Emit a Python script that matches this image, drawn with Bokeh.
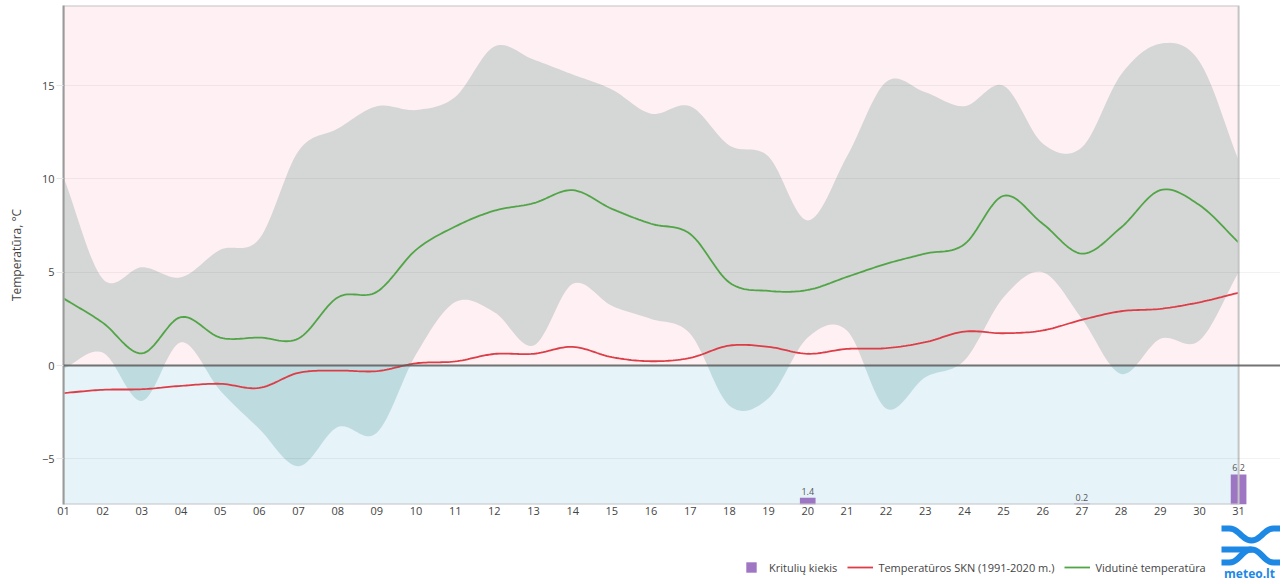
import numpy as np
from bokeh.plotting import figure
from bokeh.layouts import column
from bokeh.models import (Range1d, FixedTicker, Span, Legend, LegendItem)
from bokeh.embed import file_html
from bokeh.resources import INLINE
from bokeh.core.properties import value

# ---------------- data ----------------
days = list(range(1, 32))
day_labels = [f"{d:02d}" for d in days]

t_mean = [3.6, 2.3, 0.65, 2.6, 1.5, 1.5, 1.45, 3.65, 3.95, 6.2, 7.45, 8.3, 8.7, 9.4, 8.4, 7.6,
          7.05, 4.45, 4.0, 4.05, 4.75, 5.45, 6.0, 6.5, 9.1, 7.6, 6.0, 7.4, 9.4, 8.6, 6.6]
t_norm = [-1.48, -1.3, -1.27, -1.09, -0.98, -1.2, -0.39, -0.27, -0.3, 0.12, 0.22, 0.62, 0.63,
          1.0, 0.45, 0.23, 0.41, 1.07, 1.0, 0.63, 0.89, 0.93, 1.25, 1.82, 1.73, 1.88, 2.45,
          2.91, 3.04, 3.39, 3.9]
t_max = [10.1, 4.65, 5.27, 4.73, 6.2, 6.8, 11.5, 12.7, 13.9, 13.7, 14.4, 17.1, 16.4, 15.6, 14.8,
         13.5, 13.9, 11.8, 11.2, 7.78, 11.2, 15.2, 14.65, 13.9, 15.0, 11.9, 11.7, 15.6, 17.25,
         16.3, 11.0]
t_min = [-0.17, 0.7, -1.9, 1.25, -1.34, -3.4, -5.4, -3.3, -3.6, 0.6, 3.4, 2.86, 1.07, 4.38, 3.2,
         2.5, 1.7, -2.15, -1.75, 1.5, 1.88, -2.3, -0.63, 0.27, 3.66, 5.0, 2.5, -0.45, 1.43, 1.34,
         5.0]

precip_days = [20, 27, 31]
precip = [1.4, 0.2, 6.2]
precip_labels = [f"{v:.1f}" for v in precip]

y_ticks = [-5, 0, 5, 10, 15]
y_tick_labels = ["−5", "0", "5", "10", "15"]

series_names = ["Kritulių kiekis", "Temperatūros SKN (1991-2020 m.)", "Vidutinė temperatūra"]
y_title = "Temperatūra, °C"
logo_text = "meteo.lt"

# ---------------- helpers ----------------
def spline(xv, yv, n=16):
    """Catmull-Rom style smooth rendering of the daily points."""
    xv = np.asarray(xv, float)
    yv = np.asarray(yv, float)
    m = np.zeros_like(yv)
    m[1:-1] = (yv[2:] - yv[:-2]) / 2.0
    m[0] = yv[1] - yv[0]
    m[-1] = yv[-1] - yv[-2]
    xs, ys = [], []
    for i in range(len(xv) - 1):
        t = np.linspace(0, 1, n, endpoint=False)
        h00 = 2 * t**3 - 3 * t**2 + 1
        h10 = t**3 - 2 * t**2 + t
        h01 = -2 * t**3 + 3 * t**2
        h11 = t**3 - t**2
        ys.append(h00 * yv[i] + h10 * m[i] + h01 * yv[i + 1] + h11 * m[i + 1])
        xs.append(xv[i] + t * (xv[i + 1] - xv[i]))
    xs.append([xv[-1]])
    ys.append([yv[-1]])
    return np.concatenate(xs), np.concatenate(ys)


FONT = "Open Sans"
TXT = "#444444"
RED = "#dc3d46"
GREEN = "#52a547"
PURPLE = "#9467bd"
BLUE = "#1e88e5"

y0, y1 = -7.45, 19.3
x0, x1 = 1, 32.07

W = 1280
H_MAIN = 524
H_FOOT = 58
LEFT = 63

p_main = figure(width=W, height=H_MAIN, x_range=Range1d(x0, x1), y_range=Range1d(y0, y1),
                output_backend="svg", toolbar_location=None,
                min_border_left=LEFT, min_border_right=0, min_border_top=5, min_border_bottom=20)
p_main.outline_line_color = None
p_main.extra_y_ranges = {"precip": Range1d(0, 102.8)}

# backgrounds (warm above zero, cold below)
p_main.quad(left=[days[0]], right=[days[-1]], bottom=[0], top=[y1],
            fill_color="#fff0f3", line_color=None)
p_main.quad(left=[days[0]], right=[days[-1]], bottom=[y0], top=[0],
            fill_color="#e6f3f9", line_color=None)

# min / max band
xs, lo = spline(days, t_min)
_, hi = spline(days, t_max)
p_main.varea(x=xs, y1=np.maximum(lo, 0), y2=np.maximum(hi, 0), fill_color="#d5d6d6")
p_main.varea(x=xs, y1=np.minimum(lo, 0), y2=np.minimum(hi, 0), fill_color="#bedbdf")

# zero line
p_main.add_layout(Span(location=0, dimension="width", line_color="#5a5a5a",
                       line_width=2, line_alpha=0.85))

# lines
xn, yn = spline(days, t_norm)
p_main.line(xn, yn, line_color=RED, line_width=1.8)
xm, ym = spline(days, t_mean)
p_main.line(xm, ym, line_color=GREEN, line_width=1.8)

# precipitation bars
p_main.vbar(x=precip_days, top=precip, width=0.4, y_range_name="precip",
            fill_color=PURPLE, fill_alpha=0.9, line_color=None)
p_main.text(x=precip_days, y=precip, text=precip_labels, y_range_name="precip",
            y_offset=-3, text_align="center", text_baseline="bottom",
            text_font=value(FONT), text_font_size="9px", text_color="#555555")

# frame border around the month
p_main.quad(left=[days[0]], right=[days[-1]], bottom=[y0], top=[y1],
            fill_color=None, line_color="#c4c4c4", line_width=2)

# axes
p_main.xaxis.ticker = FixedTicker(ticks=days)
p_main.xaxis.major_label_overrides = {d: l for d, l in zip(days, day_labels)}
p_main.xaxis.axis_line_color = None
p_main.xaxis.major_tick_line_color = None
p_main.xaxis.major_tick_in = 0
p_main.xaxis.major_tick_out = 0
p_main.xaxis.minor_tick_line_color = None
p_main.xaxis.minor_tick_out = 0
p_main.xaxis.major_label_standoff = 2
p_main.xaxis.major_label_text_font = FONT
p_main.xaxis.major_label_text_font_size = "11px"
p_main.xaxis.major_label_text_color = TXT

p_main.yaxis.ticker = FixedTicker(ticks=y_ticks)
p_main.yaxis.major_label_overrides = {t: l for t, l in zip(y_ticks, y_tick_labels)}
p_main.yaxis.axis_line_color = "#9a9a9a"
p_main.yaxis.axis_line_width = 2
p_main.yaxis.major_tick_in = 0
p_main.yaxis.major_tick_out = 7
p_main.yaxis.major_tick_line_color = "#e6e6e6"
p_main.yaxis.minor_tick_line_color = None
p_main.yaxis.major_label_standoff = 2
p_main.yaxis.major_label_text_font = FONT
p_main.yaxis.major_label_text_font_size = "11px"
p_main.yaxis.major_label_text_color = TXT
p_main.yaxis.axis_label = y_title
p_main.yaxis.axis_label_text_font = FONT
p_main.yaxis.axis_label_text_font_style = "normal"
p_main.yaxis.axis_label_text_font_size = "12px"
p_main.yaxis.axis_label_text_color = TXT
p_main.yaxis.axis_label_standoff = 14

p_main.xgrid.visible = False
p_main.ygrid.ticker = FixedTicker(ticks=[t for t in y_ticks if t != 0])
p_main.ygrid.grid_line_color = "#000000"
p_main.ygrid.grid_line_alpha = 0.05
p_main.ygrid.level = "overlay"

# ---------------- footer: legend + logo (page-pixel coordinates) ----------------
top_px = H_MAIN
p_foot = figure(width=W, height=H_FOOT, x_range=Range1d(LEFT, W),
                y_range=Range1d(top_px + H_FOOT, top_px),
                output_backend="svg", toolbar_location=None,
                x_axis_location=None, y_axis_location=None,
                min_border_left=LEFT, min_border_right=0, min_border_top=0, min_border_bottom=0)
p_foot.outline_line_color = None
p_foot.grid.visible = False

nan = [float("nan")]
r_sq = p_foot.scatter(x=nan, y=nan, marker="square", size=10, fill_color=PURPLE,
                      fill_alpha=0.9, line_color=None)
r_norm = p_foot.line(x=nan, y=nan, line_color=RED, line_width=1.8)
r_mean = p_foot.line(x=nan, y=nan, line_color=GREEN, line_width=1.8)

legend_center_y = 567 - top_px
legend = Legend(items=[LegendItem(label=series_names[0], renderers=[r_sq]),
                       LegendItem(label=series_names[1], renderers=[r_norm]),
                       LegendItem(label=series_names[2], renderers=[r_mean])],
                orientation="horizontal",
                location=(738 - LEFT, H_FOOT - legend_center_y - 13),
                glyph_width=26, glyph_height=26, label_standoff=5, spacing=10,
                padding=0, margin=0, border_line_color=None, background_fill_alpha=0,
                label_text_font=FONT, label_text_font_size="11px", label_text_color=TXT)
p_foot.add_layout(legend, "center")


def bez(p0, p1, p2, p3, n=14):
    t = np.linspace(0, 1, n)[:, None]
    return ((1 - t)**3 * np.array(p0) + 3 * (1 - t)**2 * t * np.array(p1)
            + 3 * (1 - t) * t**2 * np.array(p2) + t**3 * np.array(p3))


def stroke(pts, hw):
    pts = np.asarray(pts, float)
    d = np.gradient(pts, axis=0)
    nrm = np.stack([-d[:, 1], d[:, 0]], axis=1)
    nrm /= np.linalg.norm(nrm, axis=1)[:, None] + 1e-9
    poly = np.vstack([pts + nrm * hw, (pts - nrm * hw)[::-1]])
    return list(poly[:, 0]), list(poly[:, 1])


top_piece = np.vstack([[[1221, 528], [1229, 528]],
                       bez((1229, 528), (1238, 528), (1242, 540), (1251, 540)),
                       bez((1251, 540), (1260, 540), (1264, 528), (1273, 528)),
                       [[1281, 528]]])
bot_piece = np.vstack([[[1221, 562], [1229, 562]],
                       bez((1229, 562), (1238, 562), (1242, 549), (1251, 549)),
                       bez((1251, 549), (1260, 549), (1264, 562), (1273, 562)),
                       [[1281, 562]]])
mid_bar = np.array([[1221, 549], [1236, 549], [1251, 549]])
lx, ly = [], []
for piece in (top_piece, bot_piece, mid_bar):
    sx, sy = stroke(piece, 3.0)
    lx.append(sx)
    ly.append(sy)
p_foot.patches(xs=lx, ys=ly, fill_color=BLUE, line_color=None)
p_foot.text(x=[1249], y=[573], text=[logo_text], text_align="center",
            text_baseline="middle", text_font=value(FONT), text_font_style="bold",
            text_font_size="12px", text_color=BLUE)

p = column(p_main, p_foot, spacing=0)
open("out.html", "w").write(file_html(p, INLINE))
